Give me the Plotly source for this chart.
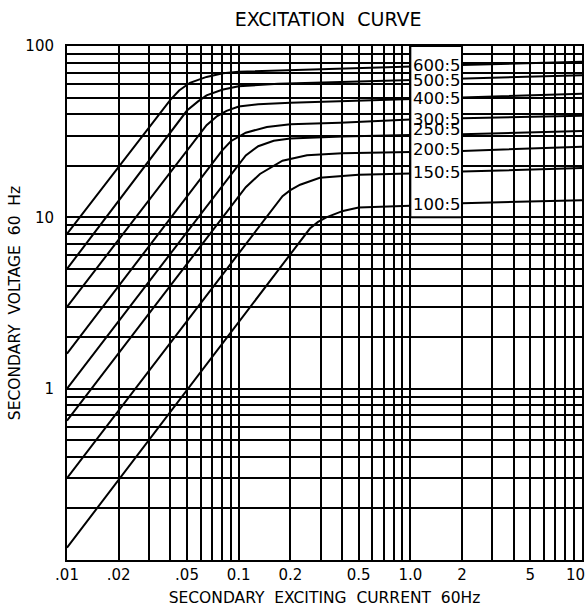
import math
import plotly.graph_objects as go

# ---- data ----
ratios = ["600:5", "500:5", "400:5", "300:5", "250:5", "200:5", "150:5", "100:5"]

I_600 = [0.01, 0.04, 0.045, 0.052, 0.065, 0.081, 0.10, 0.17, 1.0, 2.0, 10.0]
V_600 = [8.0, 48.5, 55.0, 61.0, 66.0, 69.3, 70.8, 72.0, 76.0, 77.5, 81.0]

I_500 = [0.01, 0.05, 0.058, 0.065, 0.08, 0.10, 0.17, 1.0, 2.0, 10.0]
V_500 = [5.0, 42.0, 47.5, 51.5, 55.5, 58.2, 60.3, 63.5, 64.5, 67.5]

I_400 = [0.01, 0.058, 0.065, 0.075, 0.085, 0.10, 0.13, 0.2, 1.0, 2.0, 10.0]
V_400 = [3.0, 30.0, 34.5, 39.0, 41.8, 44.3, 45.7, 46.7, 49.3, 50.0, 52.7]

I_300 = [0.01, 0.08, 0.09, 0.11, 0.146, 0.2, 0.39, 1.0, 2.0, 10.0]
V_300 = [1.6, 24.5, 27.8, 31.2, 33.7, 34.9, 35.7, 37.2, 37.9, 39.1]

I_250 = [0.01, 0.095, 0.11, 0.13, 0.16, 0.2, 0.4, 1.0, 2.0, 10.0]
V_250 = [1.0, 19.1, 23.0, 26.0, 28.0, 28.8, 29.6, 30.2, 30.5, 31.9]

I_200 = [0.01, 0.11, 0.133, 0.18, 0.25, 0.4, 1.0, 2.0, 10.0]
V_200 = [0.65, 15.0, 17.9, 21.4, 23.0, 23.7, 24.1, 24.4, 25.8]

I_150 = [0.01, 0.16, 0.18, 0.2, 0.228, 0.297, 0.5, 1.0, 2.0, 10.0]
V_150 = [0.3, 11.5, 13.3, 14.4, 15.5, 17.0, 17.7, 18.0, 18.5, 19.4]

I_100 = [0.01, 0.24, 0.26, 0.29, 0.324, 0.405, 0.5, 1.0, 2.0, 10.0]
V_100 = [0.118, 7.7, 8.6, 9.4, 10.0, 10.9, 11.4, 11.7, 12.1, 12.6]

# label vertical positions (volts) for the ratio labels
label_V = [77.1, 62.5, 49.5, 37.0, 32.7, 25.0, 18.2, 11.9]

x_tick_vals = [0.01, 0.02, 0.05, 0.1, 0.2, 0.5, 1.0, 2.0, 5.0]
x_tick_text = [".01", ".02", ".05", "0.1", "0.2", "0.5", "1.0", "2", "5"]
x_end_val = 10.0
x_end_text = "10"
y_tick_vals = [1.0, 10.0, 100.0]
y_tick_text = ["1", "10", "100"]

series_I = [I_600, I_500, I_400, I_300, I_250, I_200, I_150, I_100]
series_V = [V_600, V_500, V_400, V_300, V_250, V_200, V_150, V_100]

FONT = "DejaVu Sans"

# grid positions: every 1..9 multiple of each decade
x_grid = [d * k for d in (0.01, 0.1, 1.0) for k in range(1, 10)] + [10.0]
y_grid = [d * k for d in (0.1, 1.0, 10.0) for k in range(1, 10)] + [100.0]


def tick_lists(grid, vals, texts):
    out_t = []
    for g in grid:
        txt = ""
        for v, t in zip(vals, texts):
            if abs(math.log10(g) - math.log10(v)) < 1e-6:
                txt = t
        out_t.append(txt)
    return grid, out_t


xg, xt = tick_lists(x_grid, x_tick_vals, x_tick_text)
yg, yt = tick_lists(y_grid, y_tick_vals, y_tick_text)

fig = go.Figure()
for name, I, V in zip(ratios, series_I, series_V):
    fig.add_trace(go.Scatter(x=I, y=V, mode="lines", name=name,
                             line=dict(color="black", width=2),
                             showlegend=False, hoverinfo="skip"))

# white label column between 1.0 and 2 (10..100 V)
fig.add_shape(type="rect", xref="x", yref="y", x0=1.0, x1=2.0, y0=10.0, y1=100.0,
              fillcolor="white", line=dict(color="black", width=2), layer="above")

for name, lv in zip(ratios, label_V):
    fig.add_annotation(x=0.0, y=math.log10(lv), xref="x", yref="y", text=name,
                       showarrow=False, xanchor="left", yanchor="middle", xshift=1,
                       font=dict(family=FONT, size=16.5, color="black"))

# last x tick label, kept inside the page edge as in the reference
fig.add_annotation(x=math.log10(x_end_val), y=0, xref="x", yref="paper",
                   text=x_end_text, showarrow=False, xanchor="right",
                   yanchor="middle", xshift=5, yshift=-15,
                   font=dict(family=FONT, size=15, color="black"))

fig.update_layout(
    width=587, height=609,
    margin=dict(l=67, r=5, t=46, b=49),
    paper_bgcolor="white", plot_bgcolor="white",
    font=dict(family=FONT, color="black", size=15),
    title=dict(text="EXCITATION  CURVE", x=0.559, xanchor="center",
               y=1 - 19 / 609, yanchor="middle", yref="container",
               font=dict(family=FONT, size=19, color="black")),
)
fig.update_xaxes(type="log", range=[-2, 1], tickvals=xg, ticktext=xt,
                 showgrid=True, gridcolor="black", gridwidth=2,
                 showline=True, linecolor="black", linewidth=2, mirror=True,
                 ticks="", zeroline=False, tickangle=0, ticklabeloverflow="allow",
                 tickfont=dict(family=FONT, size=15, color="black"),
                 title=dict(text="SECONDARY  EXCITING  CURRENT  60Hz", standoff=9,
                            font=dict(family=FONT, size=15.5, color="black")),
                 automargin=False)
fig.update_yaxes(type="log", range=[-1, 2], tickvals=yg, ticktext=yt,
                 showgrid=True, gridcolor="black", gridwidth=2,
                 showline=True, linecolor="black", linewidth=2, mirror=True,
                 ticks="", zeroline=False, ticklabelstandoff=8,
                 tickfont=dict(family=FONT, size=15, color="black"),
                 title=dict(text="SECONDARY  VOLTAGE  60  Hz", standoff=1,
                            font=dict(family=FONT, size=15.5, color="black")),
                 automargin=False)

fig.write_html("out.html", config={"displayModeBar": False},
               post_script="document.body.style.margin='0px';")
